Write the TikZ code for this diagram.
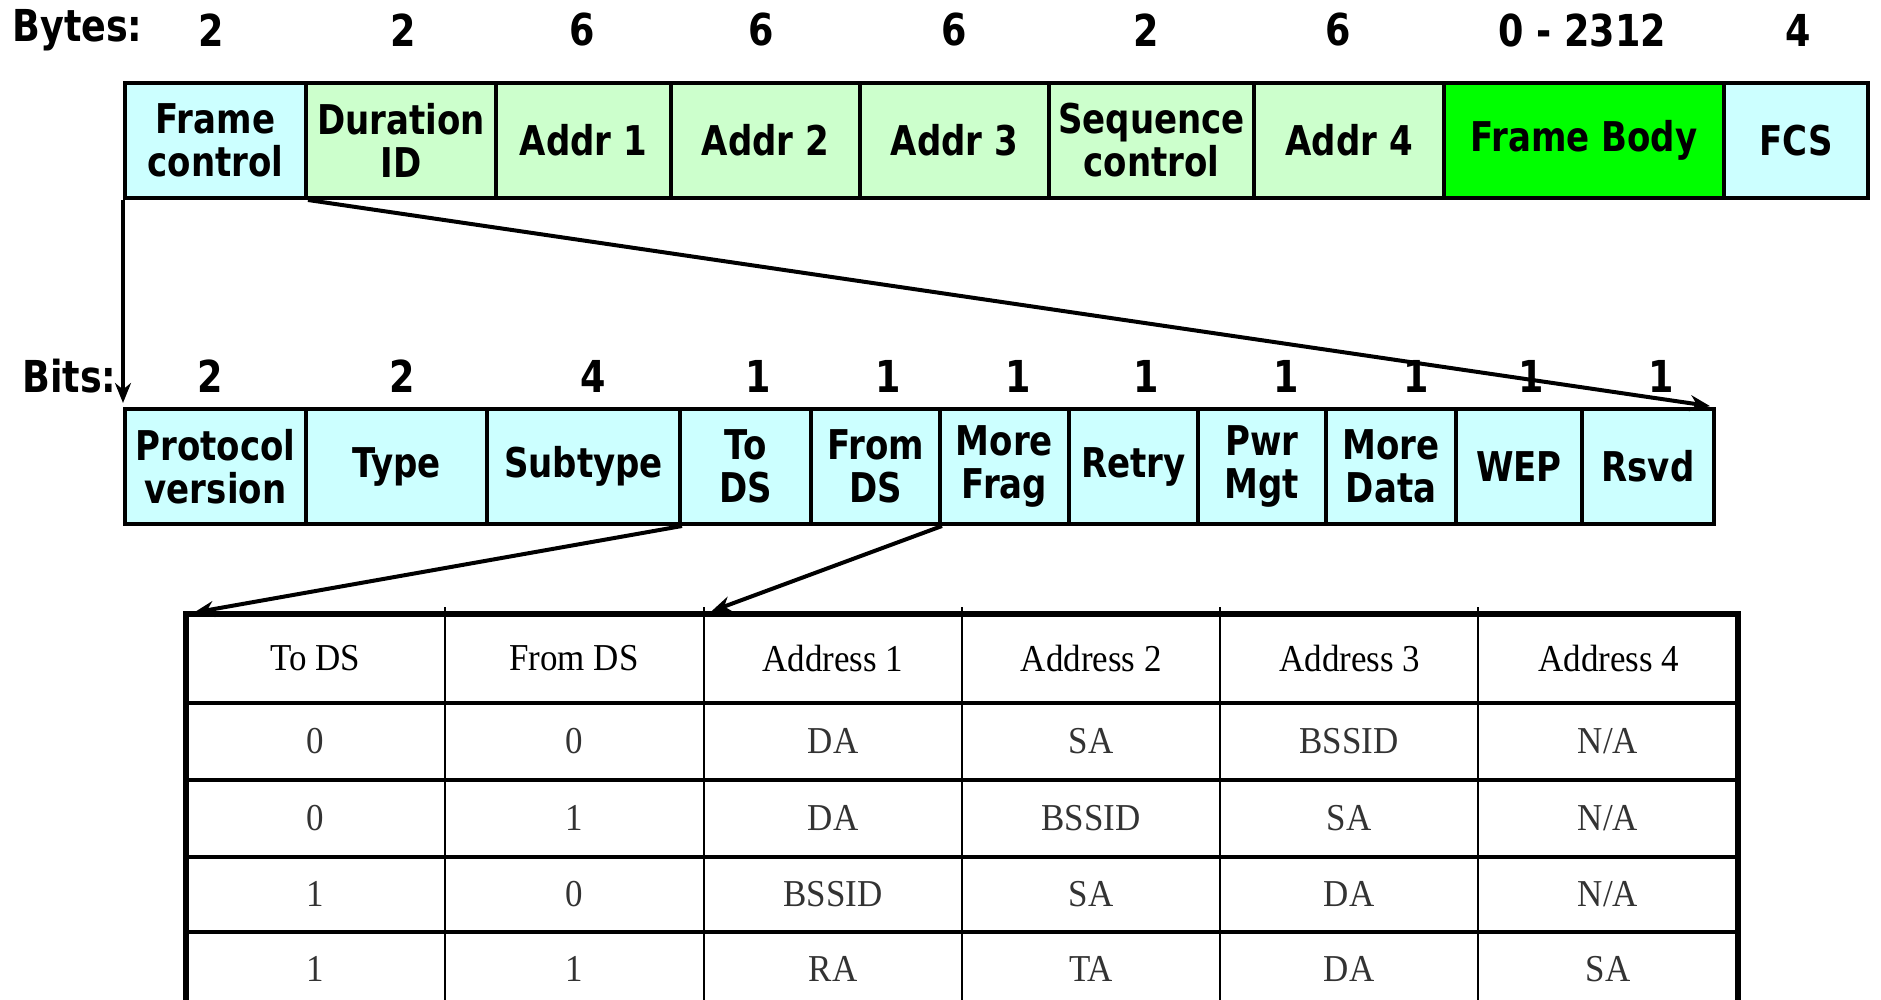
\documentclass[tikz,border=0pt]{standalone}
\usepackage{fontspec}
\usetikzlibrary{arrows.meta}
\newfontfamily\boxfont{DejaVu Sans}[FakeStretch=0.83]
\newfontfamily\tabfont{Liberation Serif}[FakeStretch=0.92]
\definecolor{cyanbox}{HTML}{CCFFFF}
\definecolor{greenbox}{HTML}{CCFFCC}
\definecolor{bodygreen}{HTML}{00FF00}
\tikzset{
  fld/.style={draw, line width=2pt, minimum height=57.5pt, inner sep=0pt, align=center,
    font=\boxfont\bfseries\fontsize{20.5}{21.5}\selectfont},
  cy/.style={fld, fill=cyanbox},
  gr/.style={fld, fill=greenbox},
  lbl/.style={inner sep=0pt, font=\boxfont\bfseries\fontsize{22}{24}\selectfont},
  cell/.style={inner sep=0pt, font=\tabfont\fontsize{19}{20}\selectfont, text=black!80},
  hcell/.style={cell, text=black},
  link/.style={line width=2pt, -{Stealth[length=10pt,width=8pt]}},
}
\begin{document}
\begin{tikzpicture}[x=0.5pt, y=-0.5pt]
\useasboundingbox (0,0) rectangle (1881,1000);
\fill[white] (0,0) rectangle (1881,1000);

% ---- byte fields ----
\node[cy, minimum width=90.5pt] (fc) at (215.5,140.5) {Frame\\control};
\node[gr, minimum width=95pt] (dur) at (401,140.5) {Duration\\ID};
\node[gr, minimum width=87.5pt] (a1) at (583.5,140.5) {Addr 1};
\node[gr, minimum width=94.5pt] (a2) at (765.5,140.5) {Addr 2};
\node[gr, minimum width=94.5pt] (a3) at (954.5,140.5) {Addr 3};
\node[gr, minimum width=102.5pt] (seq) at (1151.5,140.5) {Sequence\\control};
\node[gr, minimum width=95pt] (a4) at (1349,140.5) {Addr 4};
\node[fld, fill=bodygreen, minimum width=140pt] (body) at (1584,140.5) {Frame Body};
\node[cy, minimum width=72pt] (fcs) at (1796,140.5) {FCS};

\node[lbl, anchor=west] (byteslbl) at (12,30) {Bytes:};
\node[lbl] (n1) at (211,30) {2};
\node[lbl] (n2) at (403,30) {2};
\node[lbl] (n3) at (582,30) {6};
\node[lbl] (n4) at (761,30) {6};
\node[lbl] (n5) at (954,30) {6};
\node[lbl] (n6) at (1146,30) {2};
\node[lbl] (n7) at (1338,30) {6};
\node[lbl] (n8) at (1582,30) {0 - 2312};
\node[lbl] (n9) at (1798,30) {4};

% ---- bit fields ----
\node[cy, minimum width=90.5pt] (pv) at (215.5,466.5) {Protocol\\version};
\node[cy, minimum width=90.5pt] (typ) at (396.5,466.5) {Type};
\node[cy, minimum width=96.5pt] (sub) at (583.5,466.5) {Subtype};
\node[cy, minimum width=65.5pt] (tds) at (745.5,466.5) {To\\DS};
\node[cy, minimum width=64.5pt] (fds) at (875.5,466.5) {From\\DS};
\node[cy, minimum width=64.5pt] (mfr) at (1004.5,466.5) {More\\Frag};
\node[cy, minimum width=64.5pt] (rty) at (1133.5,466.5) {Retry};
\node[cy, minimum width=64pt] (pwr) at (1262,466.5) {Pwr\\Mgt};
\node[cy, minimum width=65pt] (mdt) at (1391,466.5) {More\\Data};
\node[cy, minimum width=63pt] (wep) at (1519,466.5) {WEP};
\node[cy, minimum width=66pt] (rsv) at (1648,466.5) {Rsvd};

\node[lbl, anchor=west] (bitslbl) at (22,376) {Bits:};
\node[lbl] (b1) at (210,376) {2};
\node[lbl] (b2) at (402,376) {2};
\node[lbl] (b3) at (593,376) {4};
\node[lbl] (b4) at (758,376) {1};
\node[lbl] (b5) at (888,376) {1};
\node[lbl] (b6) at (1018,376) {1};
\node[lbl] (b7) at (1146,376) {1};
\node[lbl] (b8) at (1286,376) {1};
\node[lbl] (b9) at (1416,376) {1};
\node[lbl] (b10) at (1531,376) {1};
\node[lbl] (b11) at (1661,376) {1};

% ---- table ----
\coordinate (ttl) at (186,614);
\coordinate (tc2) at (704,614);
\draw[line width=1pt] (445,607) -- (445,1000) (704,607) -- (704,1000) (962,607) -- (962,1000)
  (1220,607) -- (1220,1000) (1478,607) -- (1478,1000);
\draw[line width=1.6pt] (186,780) -- (1738,780) (186,857) -- (1738,857) (186,932) -- (1738,932);
\draw[line width=2.4pt] (186,703) -- (1738,703);
\draw[line width=2.6pt] (186,1000) -- (ttl) -- (1738,614) -- (1738,1000);

\foreach \t [count=\i] in {To DS, From DS, Address 1, Address 2, Address 3, Address 4}
  \node[hcell] (h\i) at ({186+258.67*(\i-0.5)},658) {\t};
\foreach \yy/\a/\b/\c/\d/\e/\f [count=\r] in {741/0/0/DA/SA/BSSID/N\slash A, 818/0/1/DA/BSSID/SA/N\slash A,
    894/1/0/BSSID/SA/DA/N\slash A, 969/1/1/RA/TA/DA/SA} {
  \node[cell] (r\r c1) at (315.5,\yy) {\a};
  \node[cell] (r\r c2) at (574.5,\yy) {\b};
  \node[cell] (r\r c3) at (833,\yy) {\c};
  \node[cell] (r\r c4) at (1091,\yy) {\d};
  \node[cell] (r\r c5) at (1349,\yy) {\e};
  \node[cell] (r\r c6) at (1608,\yy) {\f};
}

% ---- connectors ----
\draw[link, line width=1.6pt, shorten >=2pt] (fc.south west) -- (pv.north west);
\draw[link, shorten >=3pt] (fc.south east) -- (rsv.north east);
\draw[link, shorten >=4pt] (sub.south east) -- (ttl);
\draw[link, shorten >=4pt] (fds.south east) -- (tc2);
\end{tikzpicture}
\end{document}
